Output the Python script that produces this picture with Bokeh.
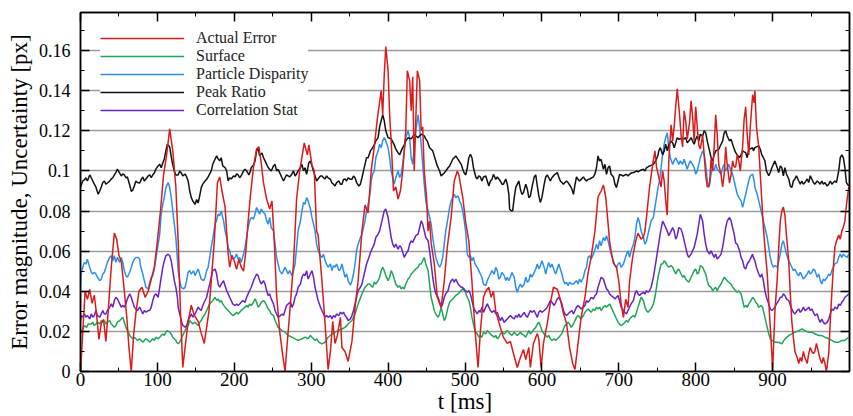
from bokeh.plotting import figure
from bokeh.models import Range1d, FixedTicker, LinearAxis, Legend, LegendItem
from bokeh.embed import file_html
from bokeh.resources import INLINE

# ---- axis ticks ----
x_ticks = [0, 100, 200, 300, 400, 500, 600, 700, 800, 900]
x_minor = [50, 150, 250, 350, 450, 550, 650, 750, 850, 950]
y_ticks = [0, 0.02, 0.04, 0.06, 0.08, 0.1, 0.12, 0.14, 0.16]
y_tick_labels = ["0", "0.02", "0.04", "0.06", "0.08", "0.1", "0.12", "0.14", "0.16"]
y_minor = [0.01, 0.03, 0.05, 0.07, 0.09, 0.11, 0.13, 0.15, 0.17]

# ---- series: (t [ms], value [px]) ----
actual_error = [(0,0.0),(3,0.02),(6,0.040),(9,0.036),(12,0.041),(15,0.034),(18,0.038),(21,0.028),(24,0.016),(27,0.024),(30,0.026),(33,0.015),(36,0.030),(40,0.052),(44,0.069),(47,0.066),(50,0.058),(53,0.055),(56,0.044),(60,0.028),(63,0.012),(66,0.0),(69,0.018),(72,0.029),(76,0.040),(80,0.042),(84,0.037),(88,0.040),(92,0.046),(96,0.052),(100,0.065),(104,0.080),(108,0.098),(112,0.108),(116,0.121),(120,0.110),(124,0.092),(127,0.065),(130,0.030),(133,0.002),(136,0.012),(140,0.025),(144,0.033),(148,0.028),(153,0.025),(157,0.019),(161,0.014),(164,0.022),(167,0.030),(170,0.045),(174,0.065),(178,0.094),(181,0.097),(184,0.090),(188,0.082),(190,0.070),(192,0.059),(194,0.052),(197,0.058),(200,0.055),(203,0.051),(206,0.056),(209,0.052),(212,0.050),(215,0.060),(218,0.075),(221,0.088),(225,0.102),(229,0.111),(232,0.112),(235,0.104),(238,0.094),(242,0.086),(246,0.081),(249,0.085),(252,0.065),(255,0.038),(259,0.020),(263,0.008),(266,0.0),(269,0.015),(272,0.029),(277,0.054),(281,0.086),(285,0.100),(288,0.107),(291,0.114),(295,0.108),(297,0.113),(301,0.103),(304,0.100),(307,0.070),(309,0.068),(314,0.045),(318,0.024),(322,0.001),(325,0.010),(328,0.025),(331,0.014),(334,0.018),(338,0.027),(340,0.012),(344,0.010),(348,0.005),(353,0.015),(357,0.032),(361,0.045),(366,0.070),(370,0.083),(374,0.079),(378,0.100),(382,0.112),(386,0.126),(391,0.140),(393,0.128),(395,0.148),(397,0.162),(400,0.150),(402,0.128),(404,0.115),(407,0.090),(410,0.092),(413,0.086),(416,0.090),(419,0.100),(423,0.120),(425,0.150),(428,0.145),(430,0.130),(432,0.147),(434,0.100),(436,0.125),(438,0.150),(441,0.145),(443,0.120),(445,0.122),(447,0.100),(450,0.087),(452,0.070),(454,0.075),(456,0.064),(460,0.054),(464,0.037),(469,0.032),(473,0.045),(477,0.062),(482,0.077),(486,0.095),(490,0.100),(492,0.098),(497,0.087),(501,0.074),(505,0.065),(509,0.045),(513,0.021),(517,0.002),(520,0.020),(524,0.037),(527,0.040),(531,0.042),(534,0.037),(537,0.040),(540,0.030),(546,0.022),(550,0.017),(555,0.014),(559,0.015),(563,0.009),(568,0.002),(572,0.007),(576,0.011),(579,0.006),(583,0.012),(585,0.002),(589,0.014),(594,0.019),(596,0.016),(599,0.002),(602,0.014),(607,0.024),(611,0.034),(615,0.042),(620,0.041),(624,0.036),(628,0.029),(632,0.024),(636,0.012),(640,0.004),(643,0.001),(647,0.014),(651,0.027),(656,0.037),(660,0.049),(664,0.057),(669,0.070),(673,0.087),(677,0.090),(680,0.093),(683,0.087),(686,0.074),(688,0.065),(690,0.060),(693,0.054),(697,0.052),(700,0.045),(703,0.034),(706,0.027),(709,0.036),(712,0.032),(714,0.045),(718,0.057),(722,0.065),(725,0.069),(729,0.066),(732,0.067),(734,0.070),(736,0.077),(740,0.092),(744,0.103),(747,0.110),(749,0.102),(752,0.097),(755,0.092),(757,0.100),(759,0.095),(761,0.085),(763,0.078),(765,0.105),(768,0.123),(770,0.115),(772,0.122),(774,0.132),(776,0.141),(779,0.128),(781,0.118),(783,0.112),(785,0.130),(787,0.125),(789,0.116),(792,0.124),(794,0.135),(796,0.127),(798,0.115),(800,0.132),(802,0.122),(804,0.113),(806,0.111),(809,0.118),(811,0.108),(813,0.098),(815,0.092),(818,0.093),(820,0.106),(822,0.100),(824,0.112),(826,0.128),(828,0.118),(830,0.103),(833,0.098),(835,0.092),(837,0.098),(839,0.112),(841,0.103),(844,0.094),(846,0.098),(848,0.105),(850,0.102),(852,0.102),(854,0.108),(856,0.105),(858,0.100),(861,0.112),(863,0.126),(865,0.132),(867,0.118),(869,0.108),(871,0.122),(874,0.138),(876,0.134),(877,0.140),(879,0.122),(882,0.112),(884,0.098),(886,0.085),(888,0.072),(890,0.062),(893,0.049),(895,0.035),(897,0.022),(899,0.009),(900,0.0),(903,0.030),(906,0.046),(908,0.062),(910,0.075),(912,0.080),(914,0.082),(916,0.078),(918,0.068),(921,0.055),(923,0.039),(925,0.025),(927,0.017),(929,0.010),(932,0.007),(934,0.004),(936,0.007),(938,0.005),(940,0.010),(942,0.007),(945,0.004),(947,0.009),(949,0.012),(951,0.010),(953,0.009),(955,0.010),(957,0.014),(960,0.009),(962,0.006),(964,0.004),(966,0.007),(968,0.004),(970,0.0),(973,0.009),(975,0.025),(977,0.039),(979,0.052),(981,0.062),(983,0.065),(986,0.068),(988,0.066),(990,0.070),(992,0.072),(994,0.075),(996,0.083),(999,0.092)]

surface = [(0,0.019),(2,0.0204),(5,0.0229),(8,0.022),(10,0.0237),(14,0.0237),(16,0.0246),(18,0.0229),(20,0.0237),(22,0.0246),(25,0.0237),(27,0.0254),(29,0.0246),(31,0.0254),(33,0.0237),(35,0.0246),(38,0.0254),(40,0.0237),(42,0.0229),(44,0.022),(46,0.0229),(48,0.0246),(51,0.0254),(53,0.0262),(55,0.027),(57,0.0246),(59,0.022),(62,0.0196),(64,0.018),(66,0.0171),(68,0.0163),(70,0.0171),(72,0.0163),(74,0.0155),(77,0.0163),(79,0.0155),(81,0.0146),(83,0.0155),(85,0.0163),(88,0.0155),(90,0.0146),(92,0.0155),(94,0.0163),(96,0.0155),(98,0.0171),(101,0.0163),(103,0.0171),(105,0.018),(107,0.0187),(109,0.018),(111,0.0196),(113,0.0204),(116,0.0196),(118,0.0187),(120,0.0171),(122,0.0163),(124,0.0155),(125,0.0146),(127,0.0138),(129,0.0146),(131,0.0163),(133,0.018),(136,0.0204),(138,0.022),(140,0.0229),(142,0.0254),(144,0.0246),(146,0.0237),(149,0.0246),(151,0.0237),(153,0.0229),(155,0.0246),(157,0.0254),(159,0.027),(162,0.0287),(164,0.0304),(166,0.0321),(168,0.0337),(170,0.0345),(172,0.0354),(175,0.037),(177,0.0354),(179,0.0362),(181,0.0345),(183,0.0354),(185,0.0337),(188,0.0321),(190,0.0312),(192,0.0304),(194,0.0295),(196,0.0287),(198,0.0279),(201,0.0287),(203,0.0295),(205,0.0287),(207,0.0295),(209,0.0304),(211,0.0312),(214,0.0321),(216,0.0329),(218,0.0321),(220,0.0337),(222,0.0329),(225,0.0345),(227,0.0362),(229,0.0345),(231,0.0321),(233,0.0329),(235,0.0345),(238,0.0354),(240,0.0345),(242,0.0329),(244,0.0312),(246,0.0304),(248,0.0287),(251,0.0279),(253,0.0254),(257,0.022),(262,0.0204),(266,0.0196),(270,0.018),(275,0.0171),(279,0.0163),(283,0.0155),(288,0.0163),(292,0.0171),(296,0.0163),(299,0.018),(301,0.0171),(303,0.0163),(305,0.0155),(307,0.0163),(310,0.0146),(314,0.0138),(318,0.0146),(322,0.0171),(327,0.0187),(331,0.0196),(335,0.0204),(340,0.0212),(344,0.022),(348,0.0237),(353,0.0254),(357,0.0287),(361,0.0337),(366,0.0387),(370,0.042),(374,0.0436),(376,0.0436),(378,0.0428),(380,0.042),(382,0.0445),(384,0.0436),(387,0.0453),(389,0.047),(391,0.0503),(393,0.052),(395,0.0503),(397,0.0478),(400,0.0453),(402,0.047),(404,0.0503),(406,0.0486),(408,0.0461),(410,0.0436),(413,0.042),(415,0.0428),(417,0.0412),(419,0.042),(421,0.0412),(423,0.0436),(426,0.0461),(428,0.047),(430,0.0486),(432,0.0494),(434,0.0503),(436,0.0511),(439,0.052),(441,0.0536),(443,0.0536),(445,0.0552),(447,0.0569),(449,0.0536),(452,0.0503),(454,0.0436),(456,0.037),(458,0.0337),(460,0.0304),(462,0.0287),(465,0.027),(467,0.0287),(469,0.0321),(471,0.0287),(473,0.0254),(475,0.027),(478,0.0321),(480,0.0345),(482,0.0354),(484,0.0362),(486,0.037),(488,0.0379),(491,0.0387),(493,0.0395),(495,0.0404),(497,0.0412),(499,0.0412),(501,0.039),(503,0.037),(505,0.0354),(507,0.0321),(509,0.0271),(511,0.0237),(513,0.0204),(516,0.0187),(518,0.0171),(520,0.018),(522,0.0171),(524,0.0196),(527,0.0187),(529,0.0204),(531,0.0196),(533,0.0187),(535,0.018),(538,0.0171),(540,0.018),(542,0.0163),(544,0.0171),(546,0.0187),(548,0.0196),(551,0.0187),(553,0.0196),(555,0.0204),(557,0.0196),(559,0.0187),(561,0.018),(564,0.0196),(566,0.0187),(568,0.018),(570,0.0187),(572,0.0196),(574,0.0187),(577,0.018),(579,0.0171),(581,0.0187),(583,0.0204),(585,0.0187),(587,0.0196),(590,0.0212),(592,0.022),(594,0.0237),(596,0.0246),(598,0.0229),(600,0.0204),(603,0.0187),(605,0.018),(607,0.0171),(609,0.018),(611,0.0163),(613,0.0155),(616,0.0163),(618,0.0155),(620,0.0163),(622,0.0171),(624,0.018),(626,0.019),(628,0.0212),(630,0.0229),(632,0.0237),(634,0.0246),(636,0.0237),(638,0.022),(641,0.0237),(643,0.0254),(645,0.027),(647,0.0279),(649,0.027),(651,0.0262),(654,0.0279),(656,0.0295),(658,0.0304),(660,0.0312),(662,0.0304),(664,0.0295),(667,0.0312),(669,0.0304),(671,0.0321),(673,0.0312),(675,0.0321),(677,0.0304),(680,0.0321),(682,0.0329),(684,0.0321),(686,0.0329),(688,0.0337),(690,0.0321),(693,0.0295),(695,0.0279),(697,0.0262),(699,0.0246),(701,0.0237),(703,0.0229),(706,0.0237),(708,0.0246),(710,0.0254),(712,0.0246),(714,0.0262),(716,0.027),(719,0.0279),(721,0.027),(723,0.0295),(725,0.0321),(727,0.0345),(729,0.037),(732,0.0354),(734,0.0321),(736,0.0304),(738,0.0295),(740,0.0304),(742,0.0312),(745,0.0337),(747,0.037),(749,0.042),(751,0.047),(753,0.0503),(755,0.0536),(757,0.0536),(759,0.0552),(761,0.0544),(763,0.0528),(765,0.052),(768,0.0528),(770,0.052),(772,0.0503),(774,0.0486),(776,0.0503),(778,0.0511),(781,0.0486),(783,0.047),(785,0.0478),(787,0.0461),(789,0.0453),(791,0.0445),(794,0.047),(796,0.0486),(798,0.0503),(800,0.0511),(802,0.0486),(804,0.0494),(806,0.0528),(809,0.052),(811,0.0503),(813,0.0486),(815,0.0453),(817,0.0428),(820,0.042),(822,0.0403),(824,0.0412),(826,0.042),(828,0.0403),(830,0.042),(833,0.0436),(835,0.0453),(837,0.047),(839,0.0461),(841,0.0453),(843,0.0445),(846,0.0436),(848,0.042),(850,0.0412),(852,0.0403),(854,0.0395),(856,0.0403),(859,0.0387),(861,0.0354),(863,0.032),(865,0.0329),(867,0.032),(869,0.0337),(872,0.0354),(874,0.037),(876,0.0362),(878,0.0345),(880,0.0337),(882,0.032),(885,0.0329),(887,0.032),(889,0.0287),(891,0.0254),(893,0.022),(895,0.0188),(897,0.0163),(899,0.0155),(903,0.0146),(908,0.0146),(912,0.0138),(916,0.0163),(921,0.0179),(925,0.0188),(929,0.0196),(934,0.0204),(938,0.0212),(942,0.0204),(947,0.0196),(951,0.0196),(955,0.0188),(960,0.0179),(964,0.0179),(968,0.0171),(973,0.0163),(977,0.0155),(981,0.0146),(986,0.0146),(990,0.0155),(994,0.0155),(999,0.0171)]

particle_disparity = [(0,0.043),(1,0.0486),(3,0.052),(5,0.0544),(7,0.0536),(9,0.056),(12,0.0519),(14,0.0495),(16,0.0486),(18,0.0495),(20,0.0486),(22,0.047),(25,0.0453),(27,0.0461),(29,0.0486),(31,0.0495),(33,0.0519),(35,0.0544),(38,0.0569),(40,0.0577),(42,0.0552),(44,0.0577),(46,0.0544),(48,0.0569),(51,0.0544),(53,0.0569),(55,0.0544),(57,0.0503),(59,0.0478),(61,0.047),(64,0.0495),(66,0.0519),(68,0.0544),(70,0.056),(72,0.0569),(75,0.0569),(77,0.056),(78,0.0527),(81,0.0486),(83,0.0453),(85,0.042),(88,0.0412),(90,0.0445),(92,0.047),(94,0.0478),(96,0.0511),(98,0.056),(100,0.061),(103,0.0685),(105,0.0785),(107,0.0834),(109,0.0868),(111,0.0917),(114,0.0942),(116,0.0917),(118,0.0868),(120,0.0801),(122,0.0735),(124,0.0669),(126,0.056),(127,0.0503),(129,0.0453),(131,0.042),(134,0.0412),(136,0.042),(138,0.0453),(140,0.0495),(142,0.0503),(144,0.0486),(147,0.0503),(149,0.0478),(151,0.0495),(153,0.0511),(155,0.0486),(157,0.0461),(160,0.0453),(162,0.047),(164,0.0503),(166,0.0519),(168,0.0569),(170,0.0619),(173,0.0685),(175,0.0735),(177,0.0752),(179,0.0785),(181,0.0776),(183,0.0801),(186,0.0752),(188,0.0702),(190,0.0669),(192,0.0619),(194,0.0602),(196,0.0569),(199,0.056),(201,0.0569),(203,0.0586),(205,0.056),(207,0.0569),(209,0.0544),(212,0.0586),(214,0.0619),(216,0.0669),(218,0.0718),(220,0.0752),(222,0.0768),(225,0.076),(227,0.0785),(229,0.0818),(231,0.0801),(233,0.0785),(235,0.081),(238,0.0793),(240,0.0785),(242,0.0752),(244,0.0735),(246,0.0768),(248,0.0718),(251,0.07),(253,0.0635),(255,0.0569),(257,0.0536),(259,0.0503),(262,0.0486),(264,0.0503),(266,0.052),(268,0.0503),(270,0.0486),(272,0.0503),(275,0.0478),(277,0.0503),(279,0.0536),(281,0.0619),(283,0.0701),(286,0.0751),(288,0.0801),(290,0.0843),(292,0.0834),(294,0.0867),(296,0.085),(299,0.081),(301,0.0768),(303,0.0735),(305,0.0701),(307,0.0635),(309,0.0602),(312,0.0577),(314,0.0569),(316,0.0585),(318,0.0553),(320,0.0536),(322,0.052),(325,0.0536),(327,0.0503),(329,0.0528),(331,0.052),(333,0.0536),(336,0.0503),(338,0.0511),(340,0.0536),(342,0.0503),(344,0.047),(346,0.0486),(348,0.0453),(351,0.043),(353,0.0453),(355,0.0486),(357,0.0536),(359,0.0602),(361,0.0635),(364,0.0668),(366,0.0685),(368,0.0718),(370,0.0751),(372,0.0801),(375,0.0851),(377,0.09),(378,0.0951),(380,0.0985),(382,0.1),(384,0.1066),(387,0.11),(389,0.1133),(391,0.1116),(393,0.115),(395,0.1166),(397,0.115),(400,0.1116),(402,0.1066),(404,0.1),(406,0.0967),(408,0.0934),(410,0.0967),(413,0.1),(415,0.0967),(417,0.0984),(419,0.1033),(421,0.11),(423,0.1166),(426,0.12),(428,0.1166),(430,0.1066),(432,0.1033),(434,0.1116),(436,0.12),(439,0.128),(441,0.1216),(443,0.1133),(445,0.1033),(447,0.0934),(449,0.085),(452,0.0801),(454,0.0768),(456,0.0735),(458,0.0668),(460,0.0619),(462,0.0569),(465,0.0536),(467,0.052),(469,0.0536),(471,0.0569),(473,0.0635),(475,0.0701),(478,0.0768),(480,0.0818),(482,0.0851),(484,0.0867),(486,0.0884),(488,0.0867),(491,0.0876),(493,0.085),(495,0.0834),(497,0.08),(499,0.0751),(501,0.0693),(503,0.0585),(505,0.0569),(507,0.0577),(509,0.0552),(511,0.0569),(513,0.0536),(516,0.0519),(518,0.0503),(520,0.0486),(522,0.047),(524,0.0436),(527,0.0428),(529,0.0453),(531,0.047),(533,0.0486),(535,0.0503),(538,0.0486),(540,0.0519),(542,0.0503),(544,0.0461),(546,0.047),(548,0.0494),(551,0.0478),(553,0.0453),(555,0.047),(557,0.0453),(559,0.047),(561,0.0494),(564,0.047),(566,0.042),(568,0.0395),(570,0.042),(572,0.0436),(574,0.042),(577,0.0436),(579,0.047),(581,0.0445),(583,0.0453),(585,0.0486),(587,0.047),(590,0.0494),(592,0.0511),(594,0.0536),(596,0.0511),(598,0.0528),(600,0.0552),(603,0.0519),(605,0.0486),(607,0.0519),(609,0.0544),(611,0.0519),(613,0.0536),(616,0.0503),(618,0.0486),(620,0.0511),(622,0.0536),(624,0.0511),(626,0.0486),(628,0.0453),(630,0.0436),(632,0.0445),(634,0.0428),(636,0.0445),(639,0.0436),(641,0.0436),(643,0.0445),(645,0.0453),(647,0.0436),(649,0.0461),(651,0.0445),(654,0.047),(656,0.0503),(658,0.0519),(660,0.0569),(662,0.0577),(664,0.056),(667,0.0585),(669,0.061),(671,0.0635),(673,0.061),(675,0.0652),(677,0.0627),(680,0.0668),(682,0.0652),(684,0.0677),(686,0.0652),(688,0.0619),(690,0.0585),(693,0.0552),(695,0.0527),(697,0.0519),(699,0.0536),(701,0.0544),(703,0.0519),(706,0.0536),(708,0.056),(710,0.0585),(712,0.0602),(714,0.0569),(716,0.0602),(719,0.0635),(721,0.0668),(723,0.0735),(725,0.0768),(727,0.0743),(729,0.07),(732,0.0668),(734,0.0635),(736,0.065),(738,0.0685),(740,0.0718),(742,0.0751),(745,0.0768),(747,0.0818),(749,0.0868),(751,0.0917),(753,0.0951),(755,0.1017),(757,0.1083),(759,0.1133),(761,0.1166),(763,0.119),(765,0.1116),(767,0.1066),(770,0.1033),(772,0.105),(774,0.1066),(776,0.105),(778,0.1033),(780,0.105),(783,0.1033),(785,0.1058),(787,0.1033),(789,0.1008),(791,0.1033),(793,0.105),(796,0.1033),(798,0.1017),(800,0.0984),(802,0.1),(804,0.1033),(806,0.1066),(809,0.11),(811,0.1083),(813,0.1033),(815,0.0951),(817,0.0917),(820,0.0984),(822,0.1017),(824,0.1),(826,0.1033),(828,0.1008),(830,0.1),(833,0.0984),(835,0.1017),(837,0.1033),(839,0.1),(841,0.1017),(843,0.1033),(846,0.1),(848,0.0984),(850,0.0951),(852,0.0917),(854,0.0884),(856,0.0868),(859,0.0851),(861,0.0818),(863,0.0851),(865,0.0884),(867,0.0917),(869,0.0951),(871,0.0976),(874,0.0984),(876,0.095),(877,0.0917),(880,0.0884),(882,0.0851),(884,0.0818),(886,0.0784),(888,0.0751),(890,0.0718),(893,0.0668),(895,0.0619),(897,0.0569),(899,0.0536),(901,0.052),(903,0.0528),(906,0.052),(908,0.0552),(910,0.0585),(912,0.0635),(914,0.0652),(916,0.0619),(918,0.0585),(921,0.0552),(923,0.0536),(925,0.052),(927,0.0503),(929,0.0511),(932,0.0486),(934,0.0478),(936,0.0494),(938,0.0478),(940,0.0461),(942,0.047),(945,0.0486),(947,0.0503),(949,0.0486),(951,0.0494),(953,0.0511),(955,0.0503),(958,0.047),(960,0.0486),(962,0.0453),(964,0.0436),(966,0.0461),(968,0.0453),(971,0.047),(973,0.0486),(975,0.0478),(977,0.0503),(979,0.052),(981,0.0536),(984,0.0544),(986,0.0569),(988,0.0585),(990,0.0569),(992,0.0585),(994,0.0577),(997,0.0569),(999,0.0585)]

peak_ratio = [(0,0.092),(3,0.095),(5,0.0955),(7,0.0966),(9,0.095),(12,0.098),(14,0.0966),(16,0.095),(18,0.0934),(20,0.092),(23,0.0884),(25,0.09),(27,0.092),(29,0.0942),(31,0.095),(33,0.0934),(35,0.094),(38,0.095),(40,0.096),(42,0.0966),(44,0.098),(46,0.0992),(48,0.1009),(50,0.0995),(53,0.0975),(55,0.0985),(57,0.098),(59,0.0966),(61,0.097),(64,0.093),(66,0.0898),(68,0.0905),(70,0.0925),(72,0.095),(74,0.0942),(77,0.094),(79,0.0958),(81,0.097),(83,0.095),(85,0.096),(88,0.0975),(90,0.098),(92,0.0966),(94,0.098),(96,0.099),(98,0.1009),(101,0.1025),(103,0.1033),(105,0.1016),(107,0.104),(109,0.106),(111,0.11),(113,0.1133),(116,0.112),(118,0.107),(120,0.103),(122,0.0999),(124,0.098),(127,0.098),(129,0.1),(131,0.099),(133,0.0975),(136,0.0985),(138,0.097),(140,0.095),(142,0.09),(144,0.0868),(146,0.085),(149,0.0834),(151,0.0858),(153,0.084),(155,0.0876),(157,0.0917),(159,0.0934),(162,0.095),(164,0.0958),(166,0.097),(168,0.0985),(170,0.1),(172,0.1033),(174,0.1051),(177,0.1075),(179,0.106),(181,0.105),(183,0.1066),(185,0.1025),(188,0.1017),(190,0.1),(192,0.095),(194,0.0966),(196,0.096),(199,0.0975),(201,0.097),(203,0.0985),(205,0.098),(207,0.0966),(209,0.0976),(212,0.1),(214,0.1009),(216,0.1),(219,0.098),(221,0.1),(222,0.1017),(225,0.103),(227,0.105),(229,0.11),(231,0.111),(233,0.1075),(236,0.109),(238,0.1066),(240,0.105),(242,0.1033),(244,0.1017),(246,0.1008),(248,0.1),(251,0.1025),(253,0.1033),(255,0.1),(257,0.1008),(260,0.0983),(262,0.0966),(264,0.095),(266,0.0966),(268,0.098),(270,0.0975),(272,0.097),(275,0.0985),(277,0.1),(279,0.0975),(281,0.0985),(283,0.1),(286,0.1016),(288,0.1033),(290,0.1),(292,0.1016),(294,0.0983),(297,0.1041),(299,0.105),(301,0.1025),(303,0.0999),(305,0.0975),(307,0.095),(310,0.0966),(312,0.0975),(314,0.0975),(316,0.0966),(318,0.096),(320,0.0975),(322,0.0966),(325,0.0958),(327,0.094),(329,0.0934),(331,0.0925),(333,0.0942),(336,0.095),(338,0.0934),(340,0.0934),(342,0.0958),(344,0.096),(346,0.095),(348,0.0966),(351,0.0958),(353,0.0958),(355,0.0975),(357,0.0966),(359,0.0942),(362,0.0925),(364,0.0934),(366,0.0966),(368,0.1),(370,0.1033),(372,0.1066),(374,0.1066),(377,0.11),(379,0.111),(382,0.113),(384,0.115),(387,0.1166),(389,0.122),(391,0.125),(393,0.128),(395,0.125),(397,0.12),(400,0.1166),(402,0.1163),(404,0.116),(406,0.1145),(408,0.113),(410,0.111),(413,0.109),(415,0.108),(417,0.11),(419,0.1116),(421,0.113),(423,0.115),(426,0.1166),(428,0.1163),(430,0.116),(432,0.117),(434,0.1183),(436,0.1175),(439,0.1166),(441,0.1175),(443,0.1183),(445,0.118),(447,0.1175),(449,0.116),(451,0.1149),(454,0.1116),(456,0.1108),(458,0.11),(460,0.1075),(462,0.105),(464,0.1025),(467,0.1),(469,0.0975),(471,0.0983),(473,0.099),(475,0.1),(478,0.1016),(480,0.1025),(482,0.1041),(484,0.1058),(486,0.1066),(488,0.1075),(491,0.1058),(493,0.1045),(495,0.1033),(497,0.101),(499,0.099),(501,0.098),(503,0.1016),(505,0.1066),(507,0.1083),(509,0.1066),(511,0.1016),(514,0.097),(516,0.096),(518,0.0975),(520,0.097),(522,0.095),(524,0.097),(527,0.0975),(529,0.095),(531,0.0925),(533,0.095),(535,0.0958),(537,0.0983),(540,0.0958),(542,0.097),(544,0.096),(546,0.095),(548,0.0934),(550,0.0934),(553,0.096),(555,0.0934),(557,0.0883),(558,0.081),(560,0.0801),(562,0.0801),(564,0.0867),(566,0.0917),(568,0.0934),(570,0.095),(572,0.091),(574,0.0883),(576,0.0891),(579,0.0934),(581,0.091),(583,0.0867),(585,0.0875),(587,0.0917),(590,0.097),(592,0.098),(594,0.0925),(596,0.0876),(598,0.0843),(600,0.0867),(603,0.0934),(605,0.097),(607,0.098),(609,0.0966),(611,0.095),(613,0.0966),(616,0.098),(618,0.0985),(620,0.0992),(622,0.097),(624,0.095),(626,0.0942),(628,0.0934),(630,0.0942),(632,0.095),(634,0.0942),(637,0.0925),(639,0.091),(641,0.0883),(643,0.093),(645,0.097),(647,0.0958),(649,0.095),(651,0.0958),(654,0.097),(656,0.0958),(658,0.095),(660,0.0958),(662,0.096),(665,0.0966),(667,0.097),(669,0.0985),(671,0.1016),(673,0.1075),(675,0.105),(677,0.1058),(680,0.1008),(682,0.1033),(684,0.0983),(686,0.1016),(688,0.1025),(690,0.0983),(693,0.097),(695,0.0934),(697,0.0917),(699,0.095),(701,0.0983),(703,0.098),(706,0.0975),(708,0.098),(710,0.0983),(712,0.0975),(714,0.0983),(716,0.099),(719,0.0992),(721,0.0995),(723,0.1),(725,0.0995),(727,0.1),(729,0.1005),(732,0.1008),(734,0.1),(736,0.1016),(738,0.102),(740,0.1025),(742,0.1028),(745,0.1033),(747,0.1045),(749,0.1058),(751,0.108),(752,0.11),(754,0.1116),(757,0.108),(759,0.11),(761,0.1133),(763,0.11),(765,0.113),(768,0.1149),(770,0.1141),(772,0.1116),(774,0.114),(776,0.1166),(778,0.1158),(781,0.1162),(783,0.1158),(785,0.116),(787,0.1166),(789,0.1141),(791,0.1149),(794,0.1166),(796,0.1149),(798,0.1133),(800,0.1158),(802,0.1174),(804,0.1149),(806,0.1183),(809,0.1174),(811,0.12),(813,0.119),(815,0.1149),(818,0.11),(820,0.1066),(822,0.105),(824,0.108),(826,0.11),(828,0.1104),(830,0.1108),(833,0.1133),(835,0.1149),(837,0.119),(839,0.12),(841,0.1174),(844,0.1149),(846,0.1158),(848,0.1133),(850,0.111),(852,0.1091),(854,0.108),(857,0.1066),(859,0.108),(861,0.11),(863,0.1095),(865,0.1091),(867,0.1066),(869,0.1108),(872,0.1112),(874,0.1116),(875,0.11),(877,0.1116),(879,0.112),(882,0.1125),(884,0.1108),(886,0.108),(888,0.1066),(890,0.105),(892,0.1),(895,0.0976),(897,0.0992),(899,0.1016),(901,0.1033),(903,0.105),(906,0.1016),(908,0.0992),(910,0.1025),(912,0.1016),(914,0.0976),(916,0.1016),(918,0.0985),(921,0.096),(923,0.0925),(925,0.0917),(927,0.095),(929,0.096),(931,0.0976),(934,0.095),(936,0.0934),(938,0.095),(940,0.0934),(942,0.0942),(945,0.096),(947,0.0942),(949,0.0976),(951,0.096),(953,0.0942),(955,0.0934),(958,0.095),(960,0.0942),(962,0.0934),(964,0.095),(966,0.0934),(968,0.0942),(971,0.0925),(973,0.0934),(975,0.095),(977,0.0934),(979,0.0942),(981,0.095),(983,0.0942),(986,0.1),(988,0.1066),(990,0.108),(992,0.1066),(994,0.1016),(996,0.0942),(999,0.0925)]

correlation_stat = [(0,0.0254),(1,0.0279),(3,0.0271),(5,0.0287),(7,0.0271),(9,0.0279),(12,0.0262),(14,0.0287),(16,0.0271),(18,0.0279),(20,0.0304),(22,0.0279),(25,0.0271),(27,0.0287),(29,0.0304),(31,0.0287),(33,0.0287),(35,0.0304),(38,0.0321),(40,0.0337),(42,0.0321),(44,0.0354),(46,0.037),(48,0.0362),(51,0.0337),(53,0.0321),(55,0.0329),(57,0.0321),(59,0.0337),(61,0.0362),(64,0.0387),(66,0.037),(68,0.0345),(70,0.0321),(72,0.0312),(74,0.0304),(77,0.0321),(79,0.0304),(81,0.0287),(83,0.0304),(85,0.0296),(88,0.0304),(90,0.0304),(92,0.0321),(94,0.0354),(96,0.0379),(98,0.0387),(101,0.037),(103,0.042),(105,0.047),(107,0.0519),(109,0.0552),(111,0.0577),(114,0.0585),(116,0.0577),(118,0.0552),(120,0.0503),(122,0.0453),(124,0.042),(126,0.037),(127,0.0321),(129,0.0287),(131,0.0254),(133,0.023),(136,0.0221),(138,0.023),(140,0.0254),(142,0.027),(144,0.0287),(146,0.0271),(149,0.0287),(151,0.0304),(153,0.0321),(155,0.0312),(157,0.0304),(159,0.0329),(162,0.0354),(164,0.037),(166,0.0404),(168,0.0436),(170,0.047),(172,0.0503),(175,0.0511),(177,0.0486),(179,0.0436),(181,0.042),(183,0.0436),(186,0.0453),(188,0.0428),(190,0.0404),(192,0.0387),(194,0.037),(196,0.0354),(198,0.0337),(201,0.0329),(203,0.0337),(205,0.0329),(207,0.0337),(209,0.0345),(211,0.0354),(214,0.0345),(216,0.037),(218,0.0387),(220,0.0404),(222,0.042),(225,0.0453),(227,0.047),(229,0.0486),(231,0.0478),(233,0.0453),(235,0.0436),(238,0.0453),(240,0.0436),(242,0.0404),(244,0.0379),(246,0.0387),(248,0.0362),(251,0.0337),(253,0.0304),(255,0.0287),(257,0.027),(260,0.0279),(262,0.0287),(264,0.0279),(266,0.0304),(268,0.0329),(270,0.0337),(273,0.0345),(275,0.032),(277,0.0337),(279,0.037),(281,0.0387),(283,0.042),(286,0.0436),(288,0.047),(290,0.0486),(292,0.0478),(294,0.0503),(296,0.0461),(299,0.0486),(301,0.0503),(303,0.047),(305,0.042),(307,0.0387),(309,0.0354),(312,0.0321),(314,0.0304),(316,0.0287),(318,0.027),(320,0.0279),(322,0.027),(325,0.0279),(327,0.0262),(329,0.0279),(331,0.027),(333,0.0287),(336,0.0279),(338,0.0296),(340,0.0287),(342,0.0296),(344,0.0279),(346,0.027),(348,0.0254),(351,0.0262),(353,0.0279),(355,0.0304),(357,0.0337),(359,0.037),(361,0.0404),(364,0.042),(366,0.0436),(368,0.047),(370,0.0503),(372,0.0536),(375,0.0569),(378,0.0602),(380,0.0619),(382,0.0635),(384,0.0668),(387,0.0685),(389,0.0701),(391,0.0735),(393,0.0768),(395,0.0801),(397,0.081),(400,0.0768),(402,0.0718),(404,0.0668),(406,0.0635),(408,0.0619),(410,0.0635),(413,0.061),(415,0.0627),(417,0.0619),(419,0.0594),(421,0.0569),(423,0.0585),(426,0.0602),(428,0.0635),(430,0.0652),(432,0.0643),(434,0.066),(436,0.0677),(439,0.0685),(441,0.0718),(443,0.0751),(445,0.0735),(447,0.0701),(449,0.0668),(452,0.0652),(454,0.0602),(456,0.0536),(458,0.047),(460,0.042),(462,0.0387),(465,0.037),(467,0.0345),(469,0.032),(471,0.0337),(473,0.037),(475,0.0387),(478,0.0404),(480,0.0436),(482,0.0453),(484,0.0461),(486,0.0445),(488,0.0461),(491,0.0436),(493,0.0428),(495,0.042),(497,0.042),(499,0.0404),(501,0.0403),(503,0.0395),(505,0.0403),(507,0.0387),(509,0.0354),(511,0.0321),(513,0.0304),(516,0.0287),(518,0.0304),(520,0.0295),(522,0.0321),(524,0.0295),(527,0.0321),(529,0.0337),(531,0.0321),(533,0.0304),(535,0.0295),(538,0.0304),(540,0.0287),(542,0.0295),(544,0.027),(546,0.0254),(548,0.027),(551,0.0245),(553,0.0254),(555,0.0262),(557,0.027),(559,0.0279),(561,0.027),(564,0.0262),(566,0.0279),(568,0.027),(570,0.0287),(572,0.027),(574,0.0279),(577,0.0295),(579,0.0279),(581,0.027),(583,0.0287),(585,0.0304),(587,0.0295),(590,0.0304),(592,0.0287),(594,0.027),(596,0.0295),(598,0.0304),(600,0.0295),(603,0.0304),(605,0.0312),(607,0.0321),(609,0.0337),(611,0.0354),(613,0.0345),(616,0.0329),(618,0.0345),(620,0.0362),(622,0.037),(624,0.0354),(626,0.0337),(628,0.0304),(630,0.0287),(632,0.0279),(634,0.0287),(636,0.0295),(639,0.0304),(641,0.0287),(643,0.0304),(645,0.0321),(647,0.0329),(649,0.0321),(651,0.0312),(654,0.0321),(656,0.0329),(658,0.0354),(660,0.0345),(662,0.0354),(664,0.037),(667,0.0362),(669,0.0379),(671,0.0387),(673,0.042),(675,0.0445),(677,0.047),(680,0.0461),(682,0.0436),(684,0.0412),(686,0.0404),(688,0.0387),(690,0.0379),(693,0.037),(695,0.0362),(697,0.037),(699,0.0379),(701,0.0354),(703,0.0321),(706,0.0304),(708,0.0295),(710,0.0287),(712,0.0304),(714,0.0321),(716,0.0337),(719,0.0354),(721,0.0387),(723,0.0403),(725,0.0387),(727,0.0379),(729,0.0387),(732,0.0395),(734,0.0387),(736,0.0403),(738,0.0395),(740,0.0403),(742,0.042),(745,0.047),(748,0.054),(750,0.059),(752,0.064),(754,0.069),(757,0.075),(759,0.0735),(761,0.0718),(763,0.07),(765,0.0677),(768,0.07),(770,0.0718),(772,0.07),(774,0.066),(776,0.0677),(778,0.0718),(781,0.071),(783,0.0685),(785,0.0652),(787,0.0619),(789,0.0585),(791,0.0569),(794,0.0585),(796,0.0602),(798,0.0619),(800,0.0652),(802,0.0685),(804,0.0735),(806,0.0784),(809,0.0751),(811,0.0685),(813,0.0635),(815,0.0602),(818,0.0585),(820,0.0602),(822,0.0585),(824,0.0569),(826,0.0585),(828,0.0561),(830,0.0569),(833,0.0585),(835,0.0619),(837,0.0668),(839,0.0718),(841,0.0751),(844,0.0768),(846,0.0751),(848,0.0718),(850,0.0685),(852,0.064),(854,0.0635),(857,0.0602),(859,0.0569),(861,0.0552),(863,0.052),(865,0.0511),(867,0.0536),(870,0.0552),(872,0.0569),(874,0.0585),(875,0.0569),(877,0.0552),(879,0.052),(882,0.0486),(884,0.047),(886,0.0486),(888,0.0453),(890,0.0403),(892,0.037),(895,0.0337),(897,0.0312),(899,0.0304),(901,0.0312),(903,0.0321),(905,0.0337),(908,0.0354),(910,0.037),(912,0.037),(914,0.0387),(916,0.0379),(918,0.0362),(921,0.0354),(923,0.033),(925,0.0312),(927,0.0295),(929,0.0287),(932,0.0304),(934,0.0312),(936,0.0295),(938,0.0304),(940,0.0321),(942,0.0304),(945,0.0312),(947,0.0321),(949,0.0304),(951,0.0312),(953,0.0295),(955,0.0279),(958,0.0287),(960,0.0262),(962,0.0245),(964,0.0262),(966,0.0245),(968,0.0237),(971,0.0245),(973,0.0262),(975,0.0287),(977,0.0312),(979,0.0304),(981,0.0321),(984,0.0312),(986,0.0337),(988,0.0329),(990,0.0345),(992,0.0354),(994,0.037),(997,0.0379),(999,0.0387)]

series_names = ["Actual Error", "Surface", "Particle Disparity", "Peak Ratio", "Correlation Stat"]
series_colors = ["#dc1a1a", "#1fa657", "#2a8ff0", "#111111", "#6a22c8"]

FONT = "Liberation Serif"

p = figure(width=853, height=416, x_range=Range1d(0, 1000), y_range=Range1d(0, 0.179),
           output_backend="svg", toolbar_location=None,
           min_border_left=80, min_border_right=4, min_border_top=12, min_border_bottom=45)
p.background_fill_color = "white"
p.border_fill_color = "white"
p.outline_line_color = "black"
p.outline_line_width = 1.5
p.outline_line_alpha = 1.0

xt = FixedTicker(ticks=x_ticks, minor_ticks=x_minor)
yt = FixedTicker(ticks=y_ticks, minor_ticks=y_minor)

def style_axis(ax, ticker):
    ax.ticker = ticker
    ax.axis_line_color = "black"
    ax.axis_line_width = 1.5
    ax.major_tick_line_color = "black"
    ax.major_tick_line_width = 1.5
    ax.minor_tick_line_color = "black"
    ax.minor_tick_line_width = 1
    ax.major_tick_in = 9
    ax.major_tick_out = 0
    ax.minor_tick_in = 4
    ax.minor_tick_out = 0
    ax.major_label_text_font = FONT
    ax.major_label_text_color = "black"
    ax.axis_label_text_font = FONT
    ax.axis_label_text_font_style = "normal"
    ax.axis_label_text_color = "black"

xa = p.xaxis[0]
style_axis(xa, xt)
xa.axis_label = "t [ms]"
xa.major_label_text_font_size = "19px"
xa.major_label_standoff = 1
xa.axis_label_text_font_size = "23px"
xa.axis_label_standoff = 0

ya = p.yaxis[0]
style_axis(ya, yt)
ya.axis_label = "Error magnitude, Uncertainty [px]"
ya.major_label_text_font_size = "18px"
ya.major_label_standoff = 10
ya.major_label_overrides = dict(zip(y_ticks, y_tick_labels))
ya.axis_label_text_font_size = "23px"
ya.axis_label_standoff = 4

top = LinearAxis()
style_axis(top, FixedTicker(ticks=x_ticks, minor_ticks=x_minor))
top.major_label_text_font_size = "0px"
top.major_label_text_color = None
top.major_label_standoff = 0
p.add_layout(top, "above")

right = LinearAxis()
style_axis(right, FixedTicker(ticks=y_ticks, minor_ticks=y_minor))
right.major_label_text_font_size = "0px"
right.major_label_text_color = None
right.major_label_standoff = 0
p.add_layout(right, "right")

p.xgrid.visible = False
p.ygrid.ticker = FixedTicker(ticks=y_ticks)
p.ygrid.grid_line_color = "#9a9a9a"
p.ygrid.grid_line_width = 1.3

data = [actual_error, surface, particle_disparity, peak_ratio, correlation_stat]
renderers = {}
draw_order = [1, 4, 2, 3, 0]
for i in draw_order:
    t = [a for a, b in data[i]]
    v = [b for a, b in data[i]]
    renderers[i] = p.line(t, v, line_color=series_colors[i], line_width=1.5)

legend = Legend(items=[LegendItem(label=series_names[i], renderers=[renderers[i]]) for i in range(5)],
                location=(20, 252), margin=0, padding=8, spacing=0,
                label_height=16, glyph_height=16, glyph_width=84, label_standoff=12,
                label_text_font=FONT, label_text_font_size="16px",
                label_text_color="#222222",
                border_line_color=None, background_fill_color="white", background_fill_alpha=1.0)
p.add_layout(legend)

open("out.html", "w").write(file_html(p, INLINE))
